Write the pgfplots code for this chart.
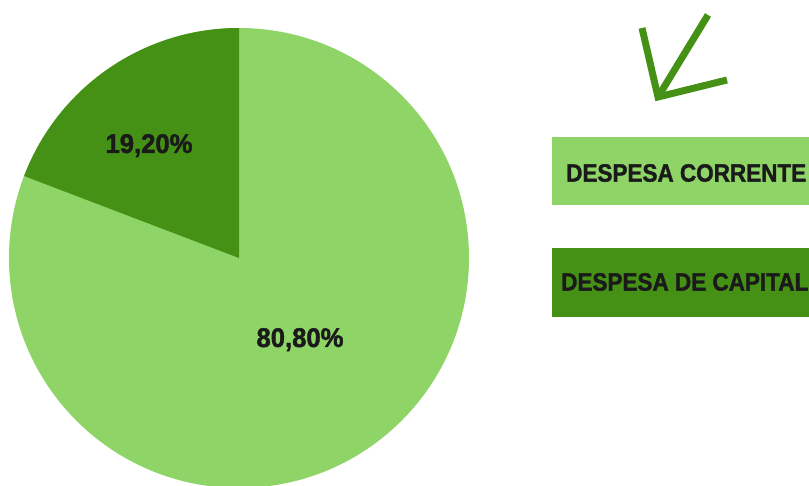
\documentclass[border=0pt]{standalone}
\usepackage{pgfplots}
\pgfplotsset{compat=1.18}
\usepackage{fontspec}
\usepackage{graphicx}
\setmainfont{Liberation Sans}
\newfontfamily\heavy{Liberation Sans Bold}[FakeBold=1.6]
\definecolor{lightg}{RGB}{143,212,103}
\definecolor{darkg}{RGB}{69,145,22}
\definecolor{txt}{RGB}{26,26,26}
\begin{document}
\begin{tikzpicture}
\useasboundingbox (0,0) rectangle (809pt,485pt);
\clip (0,0) rectangle (809pt,485pt);
\begin{axis}[at={(0,0)},anchor=south west,width=809pt,height=485pt,scale only axis,
  xmin=0,xmax=809,ymin=0,ymax=485,hide axis,clip=false]
% data: despesa de capital 19.20, despesa corrente 80.80
\pgfmathsetmacro{\capital}{19.20}
\pgfmathsetmacro{\corrente}{80.80}
\pgfmathsetmacro{\endang}{90+\capital*3.6}
\fill[lightg] (axis cs:239,227) circle[radius=230pt];
\fill[darkg] (axis cs:239,227) -- ++(90:230pt) arc[start angle=90,end angle=\endang,radius=230pt] -- cycle;
\node[txt,inner sep=0pt,anchor=base,font=\fontsize{27}{27}\selectfont\heavy] at (axis cs:149,332) {\scalebox{0.95}[1]{19,20\%}};
\node[txt,inner sep=0pt,anchor=base,font=\fontsize{27}{27}\selectfont\heavy] at (axis cs:300,138) {\scalebox{0.95}[1]{80,80\%}};
% legend boxes
\fill[lightg] (axis cs:552,280) rectangle (axis cs:830,348);
\fill[darkg] (axis cs:552,168) rectangle (axis cs:830,237);
\node[txt,inner sep=0pt,anchor=west,font=\fontsize{25}{25}\selectfont\heavy] at (axis cs:566,312) {\scalebox{0.9}[1]{DESPESA CORRENTE}};
\node[txt,inner sep=0pt,anchor=west,font=\fontsize{25}{25}\selectfont\heavy] at (axis cs:561,203) {\scalebox{0.9}[1]{DESPESA DE CAPITAL}};
% arrow
\draw[darkg,line width=7pt] (axis cs:708,470) -- (axis cs:658,388);
\draw[darkg,line width=7pt,line join=miter] (axis cs:642,457) -- (axis cs:658,388) -- (axis cs:727,405);
\end{axis}
\end{tikzpicture}
\end{document}
